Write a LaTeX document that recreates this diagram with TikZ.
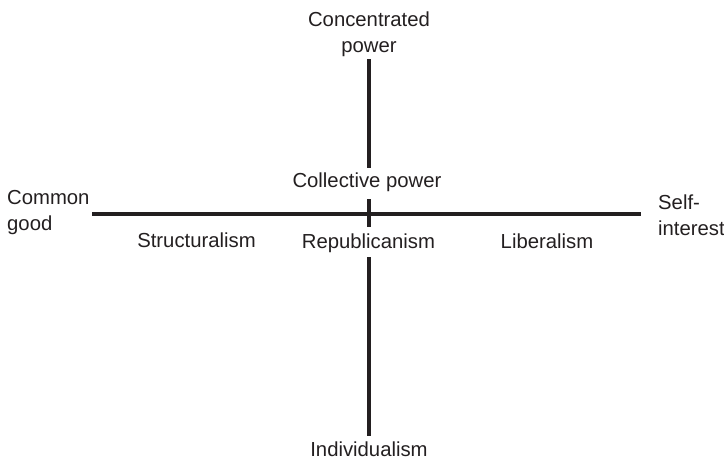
\documentclass[tikz,border=0pt]{standalone}
\usepackage{fontspec}
\setmainfont{Liberation Sans}
\definecolor{ink}{HTML}{231F20}
\begin{document}
\begin{tikzpicture}[x=1pt,y=-1pt,
  axis/.style={draw=ink,line width=3.6pt},
  lbl/.style={inner sep=0pt,text=ink,font=\fontsize{20.3}{26}\selectfont,anchor=base},
  lblL/.style={lbl,align=left,anchor=base west},
  lblC/.style={lbl,align=center}]
\useasboundingbox (0,0) rectangle (724,459);
% axis end points and gaps around the centre labels
\coordinate (west) at (92,214);
\coordinate (east) at (641,214);
\coordinate (top) at (369,59);
\coordinate (gapA) at (369,168);
\coordinate (gapB) at (369,199);
\coordinate (gapC) at (369,227);
\coordinate (gapD) at (369,257);
\coordinate (bottom) at (369,436);
% horizontal axis
\draw[axis] (west) -- (east);
% vertical axis, broken around the labels
\draw[axis] (top) -- (gapA);
\draw[axis] (gapB) -- (gapC);
\draw[axis] (gapD) -- (bottom);
% labels (multi-line labels are placed by the baseline of their last line)
\node[lblC] (conc) at (369,52.5) {Concentrated\\power};
\node[lbl] (coll) at (367,187.5) {Collective power};
\node[lblL] (common) at (7,230) {Common\\good};
\node[lblL] (self) at (658,235) {Self-\\interest};
\node[lbl] (struct) at (196.5,247.5) {Structuralism};
\node[lbl] (rep) at (368.5,248.5) {Republicanism};
\node[lbl] (lib) at (547,248) {Liberalism};
\node[lbl] (ind) at (369,456) {Individualism};
\end{tikzpicture}
\end{document}
